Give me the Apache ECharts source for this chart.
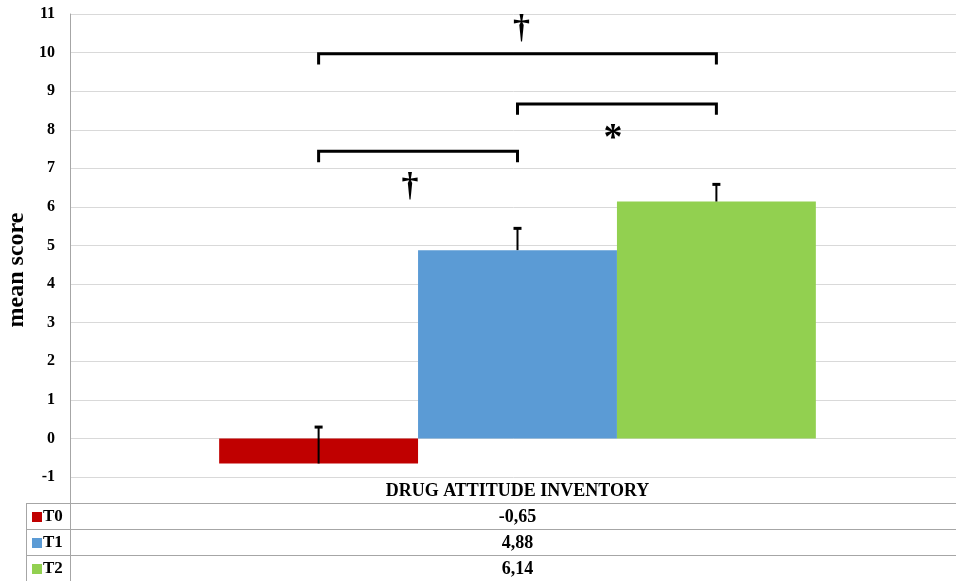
<!DOCTYPE html>
<html>
<head>
<meta charset="utf-8">
<script src="https://cdn.jsdelivr.net/npm/echarts@6/dist/echarts.min.js"></script>
<style>
  html, body { margin: 0; padding: 0; background: #ffffff; }
  #chart { width: 956px; height: 581px; }
</style>
</head>
<body>
<div id="chart"></div>
<script>
// ---- data ----
const groupName = 'DRUG ATTITUDE INVENTORY';
const seriesNames = ['T0', 'T1', 'T2'];
const meanScores = [-0.65, 4.88, 6.14];
const errorUpper = [0.32, 5.47, 6.61];          // top of each error bar
const seriesColors = ['#C00000', '#5B9BD5', '#92D050'];
const yMin = -1, yMax = 11, yStep = 1;
const yTitle = 'mean score';
// significance brackets: [fromBar, toBar, level, drop]
const brackets = [
  [0, 2, 9.97, 0.28],
  [1, 2, 8.67, 0.28],
  [0, 1, 7.44, 0.28]
];
// significance marks: [offset from first bar centre, level, symbol]
const sigMarks = [
  [1.02, 10.6, '\u2020'],
  [0.46, 6.5, '\u2020'],
  [1.48, 7.98, '*']
];

// ---- layout ----
const FONT = "'Liberation Serif', 'Times New Roman', serif";
const GRID = { left: 70, top: 14, width: 895, height: 463 };
const ROW_H = 26;
const TABLE_LEFT = 26;
const BAND_UNITS = 4.5;          // band width measured in bar widths
const FIRST_CENTER = 1.25;       // centre of first bar in the same units
const barCenter = i => FIRST_CENTER + i;

const chart = echarts.init(document.getElementById('chart'), null, { renderer: 'canvas' });

const barSeries = seriesNames.map((name, i) => ({
  name: name,
  type: 'bar',
  xAxisIndex: 0,
  yAxisIndex: 0,
  data: [meanScores[i]],
  barGap: '0%',
  barCategoryGap: '33.33%',
  itemStyle: { color: seriesColors[i] },
  emphasis: { disabled: true },
  z: 2
}));

const errorData = meanScores.map((m, i) => [barCenter(i), m, errorUpper[i]]);
const bracketData = brackets.map(b => [barCenter(b[0]), barCenter(b[1]), b[2], b[3]]);
const markData = sigMarks.map(m => [FIRST_CENTER + m[0], m[1], m[2]]);

const option = {
  animation: false,
  backgroundColor: '#ffffff',
  grid: {
    left: GRID.left, top: GRID.top, width: GRID.width, height: GRID.height,
    containLabel: false, outerBoundsMode: 'none'
  },
  xAxis: [
    {
      type: 'category',
      data: [groupName],
      axisLine: { show: false },
      axisTick: { show: false },
      axisLabel: { show: false },
      splitLine: { show: false }
    },
    { type: 'value', min: 0, max: BAND_UNITS, show: false }
  ],
  yAxis: {
    type: 'value',
    min: yMin,
    max: yMax,
    interval: yStep,
    axisLine: { show: true, lineStyle: { color: '#a6a6a6', width: 1 } },
    axisTick: { show: false },
    axisLabel: { fontFamily: FONT, fontWeight: 'bold', fontSize: 16, color: '#000', margin: 15 },
    splitLine: { show: true, lineStyle: { color: '#d9d9d9', width: 1 } }
  },
  series: barSeries.concat([
    {
      name: 'error',
      type: 'custom',
      xAxisIndex: 1,
      yAxisIndex: 0,
      data: errorData,
      encode: { x: 0, y: [1, 2] },
      z: 5,
      silent: true,
      renderItem: function (params, api) {
        const a = api.coord([api.value(0), api.value(1)]);
        const b = api.coord([api.value(0), api.value(2)]);
        return {
          type: 'group',
          children: [
            { type: 'line', shape: { x1: a[0], y1: a[1], x2: b[0], y2: b[1] }, style: { stroke: '#000', lineWidth: 2 } },
            { type: 'line', shape: { x1: b[0] - 4, y1: b[1] + 1, x2: b[0] + 4, y2: b[1] + 1 }, style: { stroke: '#000', lineWidth: 3 } }
          ]
        };
      }
    },
    {
      name: 'brackets',
      type: 'custom',
      xAxisIndex: 1,
      yAxisIndex: 0,
      data: bracketData,
      encode: { x: [0, 1], y: 2 },
      z: 5,
      silent: true,
      renderItem: function (params, api) {
        const x1 = api.value(0), x2 = api.value(1), y = api.value(2), d = api.value(3);
        const p1 = api.coord([x1, y - d]);
        const p2 = api.coord([x1, y]);
        const p3 = api.coord([x2, y]);
        const p4 = api.coord([x2, y - d]);
        return {
          type: 'polyline',
          shape: { points: [p1, p2, p3, p4] },
          style: { stroke: '#000', lineWidth: 3, fill: null, lineJoin: 'miter' }
        };
      }
    },
    {
      name: 'marks',
      type: 'custom',
      xAxisIndex: 1,
      yAxisIndex: 0,
      data: markData,
      encode: { x: 0, y: 1 },
      z: 6,
      silent: true,
      renderItem: function (params, api) {
        const p = api.coord([api.value(0), api.value(1)]);
        const sym = markData[params.dataIndex][2];
        const isStar = sym === '*';
        return {
          type: 'text',
          x: p[0],
          y: p[1] + (isStar ? 9 : 0),
          style: {
            text: sym,
            fontFamily: FONT,
            fontWeight: 'bold',
            fontSize: isStar ? 38 : 34,
            fill: '#000',
            align: 'center',
            verticalAlign: 'middle'
          }
        };
      }
    }
  ])
};

chart.setOption(option);

// ---- axis title and data table ----
function buildExtras() {
  const top = GRID.top + GRID.height;              // y of the -1 gridline
  const right = 956;
  const centerX = GRID.left + GRID.width / 2;
  const els = [];
  const lineStyle = { stroke: '#a6a6a6', lineWidth: 1 };

  els.push({
    type: 'text', x: 17, y: 270, rotation: Math.PI / 2, z: 10,
    style: { text: yTitle, fontFamily: FONT, fontWeight: 'bold', fontSize: 24, fill: '#000', align: 'center', verticalAlign: 'middle' }
  });

  // vertical axis continuation and left border
  els.push({ type: 'line', shape: { x1: GRID.left + 0.5, y1: top, x2: GRID.left + 0.5, y2: 581 }, style: lineStyle, z: 10 });
  els.push({ type: 'line', shape: { x1: TABLE_LEFT + 0.5, y1: top + ROW_H, x2: TABLE_LEFT + 0.5, y2: 581 }, style: lineStyle, z: 10 });

  // header
  els.push({
    type: 'text', x: centerX, y: top + ROW_H / 2 + 1, z: 10,
    style: { text: groupName, fontFamily: FONT, fontWeight: 'bold', fontSize: 18, fill: '#000', align: 'center', verticalAlign: 'middle' }
  });

  seriesNames.forEach((name, i) => {
    const rowTop = top + ROW_H * (i + 1);
    const rowMid = rowTop + ROW_H / 2 + 1;
    els.push({ type: 'line', shape: { x1: TABLE_LEFT, y1: rowTop + 0.5, x2: right, y2: rowTop + 0.5 }, style: lineStyle, z: 10 });
    els.push({ type: 'rect', shape: { x: 32, y: rowMid - 5, width: 10, height: 10 }, style: { fill: seriesColors[i] }, z: 10 });
    els.push({
      type: 'text', x: 43, y: rowMid, z: 10,
      style: { text: name, fontFamily: FONT, fontWeight: 'bold', fontSize: 17, fill: '#000', align: 'left', verticalAlign: 'middle' }
    });
    els.push({
      type: 'text', x: centerX, y: rowMid, z: 10,
      style: { text: meanScores[i].toFixed(2).replace('.', ','), fontFamily: FONT, fontWeight: 'bold', fontSize: 18, fill: '#000', align: 'center', verticalAlign: 'middle' }
    });
  });
  chart.setOption({ graphic: { elements: els } });
}
buildExtras();
</script>
</body>
</html>
